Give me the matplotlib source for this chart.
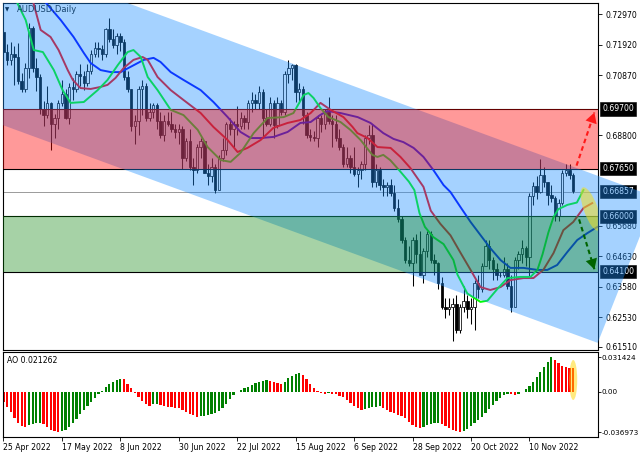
import numpy as np
import matplotlib
matplotlib.use("Agg")
import matplotlib.pyplot as plt
from matplotlib.patches import Polygon, Ellipse, FancyArrowPatch
from matplotlib.transforms import ScaledTranslation, blended_transform_factory

plt.rcParams['font.family'] = ['DejaVu Sans']

# ---------------- data ----------------
symbol_title = "AUDUSD,Daily"
date_labels = ["25 Apr 2022", "17 May 2022", "8 Jun 2022", "30 Jun 2022", "22 Jul 2022",
               "15 Aug 2022", "6 Sep 2022", "28 Sep 2022", "20 Oct 2022", "10 Nov 2022"]
date_label_bars = [0, 16, 32, 48, 64, 80, 96, 112, 128, 144]

opens = [0.7236, 0.7167, 0.7137, 0.7160, 0.7150, 0.7068, 0.7040, 0.7112, 0.7250, 0.7110,
         0.7081, 0.6970, 0.6950, 0.6990, 0.6920, 0.6940, 0.6990, 0.7020, 0.6940, 0.7045,
         0.7040, 0.7090, 0.7085, 0.7060, 0.7100, 0.7160, 0.7180, 0.7175, 0.7160, 0.7245,
         0.7210, 0.7190, 0.7220, 0.7200, 0.7080, 0.7040, 0.6910, 0.6930, 0.7040, 0.7050,
         0.6940, 0.6960, 0.6985, 0.6930, 0.6880, 0.6930, 0.6920, 0.6900, 0.6890, 0.6900,
         0.6800, 0.6860, 0.6770, 0.6760, 0.6840, 0.6860, 0.6750, 0.6740, 0.6770, 0.6690,
         0.6800, 0.6830, 0.6920, 0.6900, 0.6920, 0.6910, 0.6940, 0.6925, 0.6990, 0.7000,
         0.6990, 0.7030, 0.6940, 0.6920, 0.6990, 0.6915, 0.6990, 0.6960, 0.7090, 0.7110,
         0.7120, 0.7030, 0.7040, 0.6950, 0.6880, 0.6875, 0.6870, 0.6940, 0.6920, 0.6960,
         0.6930, 0.6920, 0.6870, 0.6840, 0.6780, 0.6800, 0.6770, 0.6745, 0.6760, 0.6780,
         0.6870, 0.6880, 0.6720, 0.6760, 0.6710, 0.6700, 0.6710, 0.6680, 0.6630, 0.6590,
         0.6520, 0.6450, 0.6440, 0.6520, 0.6470, 0.6400, 0.6480, 0.6540, 0.6450, 0.6440,
         0.6370, 0.6290, 0.6280, 0.6290, 0.6300, 0.6210, 0.6290, 0.6310, 0.6280, 0.6290,
         0.6370, 0.6350, 0.6430, 0.6500, 0.6450, 0.6420, 0.6400, 0.6400, 0.6420, 0.6360,
         0.6290, 0.6450, 0.6470, 0.6490, 0.6460, 0.6670, 0.6704, 0.6685, 0.6742, 0.6720,
         0.6675, 0.6665, 0.6600, 0.6646, 0.6750, 0.6760, 0.6744]
highs = [0.7240, 0.7195, 0.7200, 0.7187, 0.7198, 0.7095, 0.7130, 0.7266, 0.7257, 0.7145,
         0.7090, 0.6996, 0.7050, 0.6995, 0.6954, 0.7000, 0.7070, 0.7040, 0.7060, 0.7075,
         0.7100, 0.7125, 0.7100, 0.7125, 0.7172, 0.7200, 0.7200, 0.7190, 0.7250, 0.7283,
         0.7245, 0.7230, 0.7230, 0.7210, 0.7100, 0.7040, 0.6950, 0.7050, 0.7070, 0.7060,
         0.6990, 0.6990, 0.6990, 0.6960, 0.6950, 0.6960, 0.6960, 0.6920, 0.6920, 0.6910,
         0.6870, 0.6900, 0.6800, 0.6850, 0.6870, 0.6860, 0.6780, 0.6800, 0.6780, 0.6810,
         0.6870, 0.6925, 0.6940, 0.6930, 0.6980, 0.6960, 0.6950, 0.7000, 0.7030, 0.7020,
         0.7050, 0.7040, 0.6970, 0.7010, 0.7000, 0.7010, 0.7000, 0.7100, 0.7137, 0.7125,
         0.7125, 0.7060, 0.7050, 0.6960, 0.6900, 0.6895, 0.6950, 0.6950, 0.6970, 0.7010,
         0.6950, 0.6950, 0.6900, 0.6850, 0.6840, 0.6810, 0.6840, 0.6770, 0.6790, 0.6880,
         0.6915, 0.6920, 0.6780, 0.6770, 0.6730, 0.6720, 0.6730, 0.6710, 0.6660, 0.6600,
         0.6530, 0.6500, 0.6530, 0.6540, 0.6550, 0.6490, 0.6550, 0.6550, 0.6470, 0.6445,
         0.6390, 0.6320, 0.6320, 0.6320, 0.6330, 0.6300, 0.6360, 0.6330, 0.6320, 0.6380,
         0.6400, 0.6440, 0.6520, 0.6520, 0.6460, 0.6440, 0.6410, 0.6460, 0.6440, 0.6400,
         0.6460, 0.6480, 0.6520, 0.6500, 0.6680, 0.6720, 0.6740, 0.6797, 0.6770, 0.6720,
         0.6710, 0.6670, 0.6660, 0.6760, 0.6780, 0.6780, 0.6750]
lows = [0.7131, 0.7122, 0.7120, 0.7051, 0.7056, 0.7030, 0.7030, 0.7076, 0.7096, 0.7031,
        0.6954, 0.6912, 0.6940, 0.6829, 0.6870, 0.6900, 0.6980, 0.6935, 0.6920, 0.7000,
        0.7030, 0.7050, 0.7035, 0.7050, 0.7090, 0.7150, 0.7150, 0.7140, 0.7150, 0.7200,
        0.7180, 0.7160, 0.7170, 0.7070, 0.7030, 0.6895, 0.6850, 0.6880, 0.6950, 0.6930,
        0.6930, 0.6940, 0.6900, 0.6870, 0.6860, 0.6910, 0.6890, 0.6870, 0.6850, 0.6765,
        0.6790, 0.6760, 0.6710, 0.6750, 0.6800, 0.6750, 0.6710, 0.6720, 0.6681, 0.6690,
        0.6790, 0.6810, 0.6880, 0.6840, 0.6880, 0.6900, 0.6900, 0.6900, 0.6960, 0.6970,
        0.6970, 0.6870, 0.6910, 0.6910, 0.6870, 0.6905, 0.6950, 0.6950, 0.7060, 0.7070,
        0.6995, 0.6990, 0.6920, 0.6870, 0.6860, 0.6860, 0.6840, 0.6890, 0.6900, 0.6920,
        0.6840, 0.6860, 0.6830, 0.6770, 0.6770, 0.6750, 0.6740, 0.6700, 0.6730, 0.6760,
        0.6850, 0.6700, 0.6700, 0.6690, 0.6670, 0.6670, 0.6670, 0.6620, 0.6580, 0.6510,
        0.6440, 0.6430, 0.6360, 0.6440, 0.6400, 0.6370, 0.6460, 0.6440, 0.6400, 0.6350,
        0.6280, 0.6250, 0.6260, 0.6170, 0.6200, 0.6200, 0.6270, 0.6250, 0.6230, 0.6210,
        0.6320, 0.6340, 0.6430, 0.6420, 0.6380, 0.6380, 0.6390, 0.6390, 0.6350, 0.6272,
        0.6290, 0.6420, 0.6440, 0.6430, 0.6390, 0.6640, 0.6660, 0.6680, 0.6700, 0.6640,
        0.6650, 0.6585, 0.6585, 0.6640, 0.6740, 0.6730, 0.6680]
closes = [0.7167, 0.7137, 0.7160, 0.7150, 0.7068, 0.7040, 0.7112, 0.7250, 0.7110, 0.7081,
          0.6970, 0.6950, 0.6990, 0.6920, 0.6940, 0.6990, 0.7020, 0.6940, 0.7045, 0.7040,
          0.7090, 0.7085, 0.7060, 0.7100, 0.7160, 0.7180, 0.7175, 0.7160, 0.7245, 0.7210,
          0.7190, 0.7220, 0.7200, 0.7080, 0.7040, 0.6910, 0.6930, 0.7040, 0.7050, 0.6940,
          0.6960, 0.6985, 0.6930, 0.6880, 0.6930, 0.6920, 0.6900, 0.6890, 0.6900, 0.6800,
          0.6860, 0.6770, 0.6760, 0.6840, 0.6860, 0.6750, 0.6740, 0.6770, 0.6690, 0.6800,
          0.6830, 0.6920, 0.6900, 0.6920, 0.6910, 0.6940, 0.6925, 0.6990, 0.7000, 0.6990,
          0.7030, 0.6940, 0.6920, 0.6990, 0.6915, 0.6990, 0.6960, 0.7090, 0.7110, 0.7120,
          0.7030, 0.7040, 0.6950, 0.6880, 0.6875, 0.6870, 0.6940, 0.6920, 0.6960, 0.6930,
          0.6920, 0.6870, 0.6840, 0.6780, 0.6800, 0.6770, 0.6745, 0.6760, 0.6780, 0.6870,
          0.6880, 0.6720, 0.6760, 0.6710, 0.6700, 0.6710, 0.6680, 0.6630, 0.6590, 0.6520,
          0.6450, 0.6440, 0.6520, 0.6470, 0.6400, 0.6480, 0.6540, 0.6450, 0.6440, 0.6370,
          0.6290, 0.6280, 0.6290, 0.6300, 0.6210, 0.6290, 0.6310, 0.6280, 0.6290, 0.6370,
          0.6350, 0.6430, 0.6500, 0.6450, 0.6420, 0.6400, 0.6400, 0.6420, 0.6360, 0.6290,
          0.6450, 0.6470, 0.6490, 0.6460, 0.6670, 0.6704, 0.6685, 0.6742, 0.6720, 0.6675,
          0.6665, 0.6600, 0.6646, 0.6750, 0.6760, 0.6744, 0.6686]

# Alligator lines (bar position, price)
lips_x = [3.4, 6.1, 8.3, 10.8, 13.8, 16.2, 18.4, 22.0, 25.8, 28.5, 31.3, 34.0, 35.6, 37.6, 39.5,
          42.2, 45.8, 49.3, 53.2, 55.9, 59.5, 62.2, 64.9, 68.5, 72.3, 76.7, 79.4, 82.2, 83.5,
          84.9, 86.8, 89.0, 92.3, 95.0, 97.8, 101.0, 102.4, 104.0, 105.9, 108.3, 111.0, 112.5,
          113.9, 115.4, 117.7, 120.5, 123.2, 124.3, 127.0, 130.6, 132.5, 135.2, 138.0, 141.5,
          144.3, 146.2, 147.6, 149.2, 150.6, 151.9, 154.4, 157.0, 158.8]
lips_y = [0.7345, 0.7276, 0.7173, 0.7166, 0.7104, 0.7035, 0.6991, 0.6994, 0.7035, 0.7070,
          0.7121, 0.7166, 0.7173, 0.7149, 0.7080, 0.7035, 0.6967, 0.6949, 0.6898, 0.6839,
          0.6794, 0.6788, 0.6819, 0.6887, 0.6939, 0.6942, 0.6956, 0.7018, 0.7025, 0.7008,
          0.6973, 0.6942, 0.6925, 0.6898, 0.6863, 0.6812, 0.6805, 0.6812, 0.6794, 0.6760,
          0.6720, 0.6691, 0.6612, 0.6564, 0.6529, 0.6505, 0.6450, 0.6400, 0.6335, 0.6306,
          0.6310, 0.6350, 0.6388, 0.6392, 0.6392, 0.6416, 0.6470, 0.6545, 0.6598, 0.6625,
          0.6640, 0.6648, 0.6691]
teeth_x = [8.0, 10.2, 12.9, 15.1, 17.6, 19.0, 21.1, 23.9, 26.6, 28.5, 30.7, 32.9, 35.6, 38.1,
           39.5, 42.2, 45.8, 49.3, 54.0, 57.5, 61.4, 64.1, 66.8, 70.4, 73.9, 77.8, 81.3, 84.1,
           86.8, 89.6, 93.1, 95.6, 96.9, 99.7, 102.4, 106.0, 108.7, 111.4, 115.0, 117.0, 119.6,
           122.4, 125.1, 127.9, 130.6, 133.3, 136.1, 138.8, 142.4, 145.1, 147.8, 150.6, 153.3,
           156.0, 158.8, 161.2]
teeth_y = [0.7345, 0.7242, 0.7218, 0.7173, 0.7104, 0.7070, 0.7042, 0.7039, 0.7046, 0.7053,
           0.7077, 0.7111, 0.7139, 0.7149, 0.7139, 0.7080, 0.7035, 0.7001, 0.6956, 0.6908,
           0.6863, 0.6822, 0.6836, 0.6863, 0.6905, 0.6922, 0.6932, 0.6956, 0.6991, 0.6967,
           0.6942, 0.6908, 0.6887, 0.6870, 0.6839, 0.6836, 0.6805, 0.6767, 0.6702, 0.6620,
           0.6575, 0.6535, 0.6476, 0.6416, 0.6357, 0.6347, 0.6357, 0.6381, 0.6388, 0.6388,
           0.6416, 0.6474, 0.6553, 0.6581, 0.6629, 0.6646]
jaw_x = [11.0, 15.7, 19.2, 22.0, 23.9, 26.6, 29.4, 32.1, 34.8, 38.4, 41.1, 43.0, 45.8, 49.3,
         54.0, 57.5, 61.4, 64.9, 67.7, 70.4, 74.0, 77.8, 81.3, 84.1, 86.8, 88.7, 92.3, 97.0,
         100.5, 104.0, 106.8, 109.5, 112.3, 115.0, 117.7, 120.5, 122.4, 125.1, 127.9, 130.6,
         133.3, 136.1, 138.8, 142.4, 146.2, 148.9, 151.6, 154.4, 157.1, 159.9, 162.6]
jaw_y = [0.7345, 0.7276, 0.7218, 0.7163, 0.7128, 0.7104, 0.7097, 0.7097, 0.7115, 0.7139,
         0.7146, 0.7132, 0.7097, 0.7070, 0.7035, 0.6994, 0.6942, 0.6891, 0.6870, 0.6870,
         0.6874, 0.6891, 0.6922, 0.6925, 0.6950, 0.6963, 0.6956, 0.6942, 0.6922, 0.6887,
         0.6867, 0.6856, 0.6836, 0.6805, 0.6760, 0.6708, 0.6684, 0.6633, 0.6581, 0.6536,
         0.6491, 0.6450, 0.6423, 0.6423, 0.6416, 0.6416, 0.6433, 0.6478, 0.6519, 0.6543,
         0.6564]

ao_values = [
    -0.0091, -0.0137, -0.0183, -0.0244, -0.0289, -0.0314, -0.0320,
    -0.0304, -0.0295, -0.0289, -0.0286,
    -0.0298, -0.0320, -0.0350, -0.0358, -0.036973,
    -0.0362, -0.0352, -0.0320, -0.0289, -0.0250, -0.0207, -0.0171, -0.0131, -0.0091, -0.0055,
    -0.0021, 0.0009, 0.0040, 0.0067, 0.0085, 0.0104, 0.0119,
    0.0113, 0.0067, 0.0030, -0.0015, -0.0052, -0.0085, -0.0113, -0.0128,
    -0.0116, -0.0110,
    -0.0122, -0.0131, -0.0137, -0.0140, -0.0146, -0.0152, -0.0167, -0.0183, -0.0201, -0.0216, -0.0228,
    -0.0225, -0.0219, -0.0213, -0.0207, -0.0198, -0.0177, -0.0146, -0.0110, -0.0070, -0.0030,
    -0.0002, 0.0015, 0.0030, 0.0046, 0.0061, 0.0076, 0.0085, 0.0097, 0.0104,
    0.0097, 0.0085, 0.0076, 0.0067,
    0.0085, 0.0122, 0.0146, 0.0164, 0.0171,
    0.0152, 0.0113, 0.0067, 0.0030, 0.0006, -0.0009, -0.0018,
    -0.0012,
    -0.0018, -0.0024, -0.0037, -0.0052, -0.0076, -0.0100, -0.0128, -0.0152, -0.0171,
    -0.0161, -0.0149, -0.0140, -0.0137, -0.0134,
    -0.0146, -0.0164, -0.0183, -0.0198, -0.0210, -0.0222, -0.0244, -0.0274, -0.0304, -0.0323, -0.0332,
    -0.0323, -0.0308, -0.0292, -0.0286, -0.0283,
    -0.0295, -0.0314, -0.0335, -0.0350, -0.0362, -0.0368,
    -0.0359, -0.0338, -0.0314, -0.0289, -0.0259, -0.0228, -0.0195, -0.0158, -0.0122, -0.0085,
    -0.0055, -0.0030, -0.0021,
    -0.0024, -0.0030,
    -0.0018, 0.0001, 0.0024, 0.0055, 0.0091, 0.0134, 0.0177, 0.0225, 0.0274, 0.031424,
    0.0289, 0.0259, 0.0237, 0.0225, 0.0219, 0.021262]

price_ticks = [0.72970, 0.71920, 0.70870, 0.68800,
               0.65680, 0.64630, 0.63580, 0.62530, 0.61510]
level_lines = [0.69700, 0.67650, 0.66000, 0.64100]
bid_price = 0.66857
red_zone = [0.67650, 0.69700]
green_zone = [0.64100, 0.66000]
channel_x = [-0.7, 162.7]
channel_upper = [0.7495, 0.6740]
channel_lower = [0.6917, 0.6165]
channel_scale_x = 174.4          # right edge of the price scale, in bars
channel_scale_edge = 0.6536      # where the fill ends on the price scale
up_arrow = [(156.9, 0.6775), (161.8, 0.6958)]
down_arrow = [(157.6, 0.6590), (161.8, 0.6418)]
price_ellipse_center = (160.8, 0.66256)
ao_ellipse_center = (156.0, 0.0107)
ao_ticks = [0.031424, 0.0, -0.036973]
ao_tick_labels = ["0.031424", "0.00", "-0.036973"]

# ---------------- figure ----------------
W, H = 640, 457
fig = plt.figure(figsize=(W / 100, H / 100), dpi=100)
fig.patch.set_facecolor('white')


def frac_box(l, t, r, b):
    return [l / W, 1 - b / H, (r - l) / W, (b - t) / H]


ax = fig.add_axes(frac_box(2.7, 2.7, 597.7, 350))
ax2 = fig.add_axes(frac_box(2.7, 352, 597.7, 437))

FS = 5.6
XMIN, XMAX = -0.2, 162.7

# ---- price panel ----
idx = np.arange(len(closes))
o = np.array(opens); h = np.array(highs); lo = np.array(lows); c = np.array(closes)
bull = c >= o
ax.vlines(idx, lo, h, color='black', lw=0.75, zorder=2)
ax.bar(idx, np.abs(c - o), bottom=np.minimum(o, c), width=0.66,
       color=np.where(bull, 'white', 'black'), edgecolor='black', linewidth=0.55, zorder=2.2)

ax.axhline(bid_price, color='#9a9a9a', lw=0.7, zorder=1.5)
for lv in level_lines:
    ax.axhline(lv, color='black', lw=0.8, zorder=3)

ax.plot(jaw_x, jaw_y, color='#0000ff', lw=1.4, zorder=3)
ax.plot(teeth_x, teeth_y, color='#ff0000', lw=1.4, zorder=3)
ax.plot(lips_x, lips_y, color='#00ff00', lw=1.4, zorder=3)

ax.text(0.004, 0.979, '\u25BC', transform=ax.transAxes, fontsize=4, va='center', ha='left', zorder=3.5)
ax.text(0.024, 0.979, symbol_title, transform=ax.transAxes, fontsize=6, va='center', ha='left',
        color='#111111', zorder=3.5)

blue_fill = (30 / 255, 144 / 255, 1.0)
chan = Polygon([(channel_x[0], channel_upper[0]), (channel_x[1], channel_upper[1]),
                (channel_x[1], channel_lower[1]), (channel_x[0], channel_lower[0])],
               closed=True, facecolor=blue_fill, alpha=0.4, lw=0, zorder=4)
ax.add_patch(chan)

slope_u = (channel_upper[1] - channel_upper[0]) / (channel_x[1] - channel_x[0])
upper_at_scale = channel_upper[1] + slope_u * (channel_scale_x - channel_x[1])
tri = Polygon([(channel_x[1], channel_upper[1]), (channel_scale_x, upper_at_scale),
               (channel_scale_x, channel_scale_edge), (channel_x[1], channel_lower[1])],
              closed=True, facecolor=blue_fill, alpha=0.4, lw=0, zorder=9, clip_on=False)
ax.add_patch(tri)

ax.axhspan(red_zone[0], red_zone[1], facecolor='#ff0000', alpha=0.4, lw=0, zorder=5)
ax.axhspan(green_zone[0], green_zone[1], facecolor='#008000', alpha=0.35, lw=0, zorder=5)


def dashed_arrow(axis, start, tip, color):
    axis.plot([start[0], tip[0]], [start[1], tip[1]], ls=(0, (2.2, 1.6)), color=color, lw=1.5,
              zorder=8, dash_capstyle='butt')
    frac = 0.72
    base = (start[0] + frac * (tip[0] - start[0]), start[1] + frac * (tip[1] - start[1]))
    head = FancyArrowPatch(base, tip, arrowstyle='-|>,head_length=0.75,head_width=0.42',
                           mutation_scale=10, lw=0, color=color, zorder=8.5,
                           shrinkA=0, shrinkB=0)
    axis.add_patch(head)


dashed_arrow(ax, up_arrow[0], up_arrow[1], '#ff1a1a')
dashed_arrow(ax, down_arrow[0], down_arrow[1], '#006400')

ell = Ellipse((0, 0), width=0.46, height=0.14, angle=-70,
              transform=fig.dpi_scale_trans + ScaledTranslation(price_ellipse_center[0],
                                                                 price_ellipse_center[1], ax.transData),
              facecolor=(0.95, 0.87, 0.12), alpha=0.55, lw=0, zorder=7)
ax.add_patch(ell)

ax.set_xlim(XMIN, XMAX)
ax.set_ylim(0.61404, 0.73359)
ax.set_xticks([])
ax.yaxis.tick_right()
ax.set_yticks(price_ticks)
ax.set_yticklabels([f'{v:.5f}' for v in price_ticks])
ax.tick_params(axis='y', length=3, width=0.6, labelsize=FS, pad=2.5, colors='black')
for s in ax.spines.values():
    s.set_color('black'); s.set_linewidth(0.8)

trans = blended_transform_factory(ax.transAxes, ax.transData)
for val in level_lines + [bid_price]:
    ax.text(1.0 + 0.0075, val, f'{val:.5f}', transform=trans, ha='left', va='center', fontsize=FS,
            color='white', clip_on=False, zorder=6,
            bbox=dict(boxstyle='square,pad=0.28', fc='black', ec='black', lw=0.4))

# ---- AO panel ----
ao = np.array(ao_values)
ao_idx = np.arange(len(ao))
ao_col = ['#ff0000'] + ['#008000' if ao[i] > ao[i - 1] else '#ff0000' for i in range(1, len(ao))]
ax2.bar(ao_idx, ao, width=0.62, color=ao_col, lw=0, zorder=2)
ell2 = Ellipse((0, 0), width=0.08, height=0.40,
               transform=fig.dpi_scale_trans + ScaledTranslation(ao_ellipse_center[0],
                                                                 ao_ellipse_center[1], ax2.transData),
               facecolor=(1.0, 0.84, 0.0), alpha=0.5, lw=0, zorder=4)
ax2.add_patch(ell2)
ax2.text(0.0072, 0.905, f'AO {ao[-1]:.6f}', transform=ax2.transAxes, fontsize=FS, va='center', ha='left')

ax2.set_xlim(XMIN, XMAX)
ax2.set_ylim(-0.04137, 0.03626)
ax2.yaxis.tick_right()
ax2.set_yticks(ao_ticks)
ax2.set_yticklabels(ao_tick_labels)
ax2.tick_params(axis='y', length=2, width=0.6, labelsize=5.2, pad=0.8)
ax2.set_xticks(date_label_bars)
ax2.set_xticklabels(date_labels)
ax2.tick_params(axis='x', length=3, width=0.6, labelsize=FS, pad=1.5)
for t in ax2.get_xticklabels():
    t.set_ha('left')
for s in ax2.spines.values():
    s.set_color('black'); s.set_linewidth(0.8)

fig.savefig('out.png', dpi=100, facecolor='white')
